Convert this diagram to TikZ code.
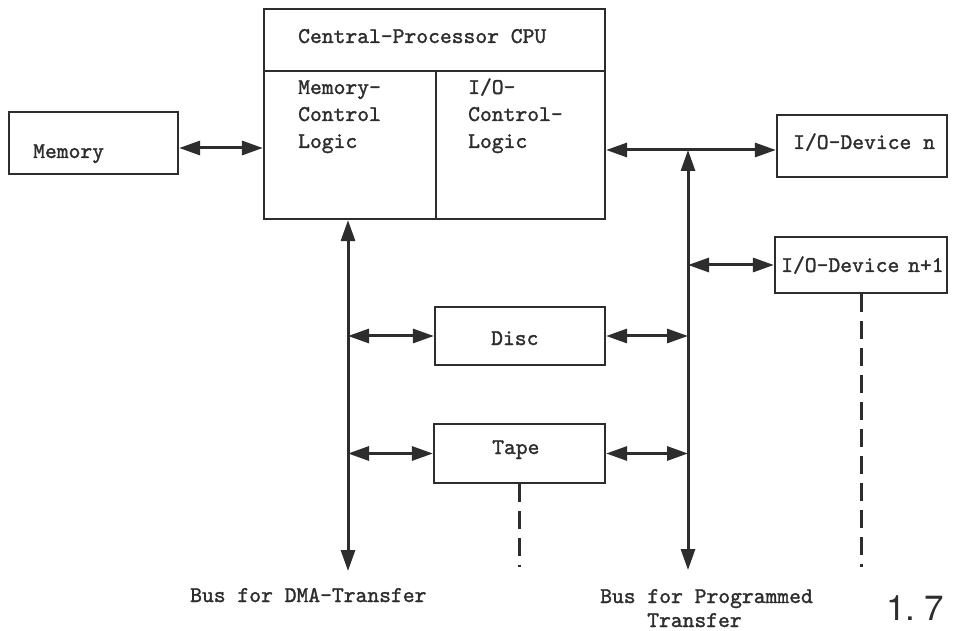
\documentclass[tikz,border=0pt]{standalone}
\usepackage{fontspec}
\newfontfamily\figfont{TeX Gyre Heros}
\newfontfamily\typewriter{lmmono10-regular.otf}[FakeBold=1.4]
\usetikzlibrary{arrows.meta}
\definecolor{ink}{RGB}{45,45,45}
\begin{document}
\begin{tikzpicture}[x=1pt,y=-1pt,
  box/.style={draw=ink, line width=2.2pt, rectangle, inner sep=0pt},
  lbl/.style={font=\typewriter\fontsize{22.5}{27}\selectfont, text=ink, anchor=base west, inner sep=0pt},
  divider/.style={draw=ink, line width=2.2pt},
  bi/.style={draw=ink, line width=3pt, {Triangle[length=21pt,width=14pt]}-{Triangle[length=21pt,width=14pt]}},
  dashline/.style={draw=ink, line width=3pt, dash pattern=on 18pt off 9pt}
]
\useasboundingbox[fill=white] (0,0) rectangle (954,631);

% boxes
\node[box, minimum width=341pt, minimum height=210pt] (cpu) at (434.5,114) {};
\node[box, minimum width=169pt, minimum height=62pt] (mem) at (93.5,143) {};
\node[box, minimum width=170pt, minimum height=62pt] (iodn) at (862,146) {};
\node[box, minimum width=172pt, minimum height=56pt] (iodn1) at (861,265) {};
\node[box, minimum width=170pt, minimum height=58pt] (disc) at (520,336) {};
\node[box, minimum width=171pt, minimum height=59pt] (tape) at (519.5,453.5) {};

% inner partitions of the CPU
\coordinate (split) at (436,71);
\draw[divider] (cpu.west |- split) -- (cpu.east |- split);
\draw[divider] (split) -- (split |- cpu.south);

% texts
\node[lbl] (cputitle) at (298,43) {Central-Processor CPU};
\node[lbl] (mcl1) at (298,94) {Memory-};
\node[lbl] (mcl2) at (298,121) {Control};
\node[lbl] (mcl3) at (298,148) {Logic};
\node[lbl] (iocl1) at (468,94) {I/O-};
\node[lbl] (iocl2) at (468,121) {Control-};
\node[lbl] (iocl3) at (468,148) {Logic};
\node[lbl] (memtext) at (33,158) {Memory};
\node[lbl] (iodntext) at (793,149) {I/O-Device n};
\node[lbl] (iodn1text) at (781,272) {I/O-Device\hspace{-3pt} n+1};
\node[lbl] (disctext) at (491,345) {Disc};
\node[lbl] (tapetext) at (492,454) {Tape};
\node[lbl] (dmatext) at (190,602) {Bus for DMA-Transfer};
\node[lbl] (prgtext1) at (600,603) {Bus for Programmed};
\node[lbl] (prgtext2) at (647,627) {Transfer};
\node[anchor=base west, inner sep=0pt, text=ink, font=\figfont\fontsize{35}{40}\selectfont] (fignum) at (886,620) {1.\hspace{9pt}7};

% bus junctions and ends
\coordinate (memlink) at (220,148);
\coordinate (junction) at (688,150);
\coordinate (prgend) at (688,570);
\coordinate (dmaend) at (348,571);
\coordinate (dashend) at (0,567);

% connectors
\draw[bi] (mem.east |- memlink) -- (cpu.west |- memlink);
\draw[bi] (cpu.east |- junction) -- (iodn.west |- junction);
\draw[bi] (junction) -- (prgend);
\draw[bi] (cpu.south -| dmaend) -- (dmaend);
\draw[bi] (junction |- iodn1.west) -- (iodn1.west);
\draw[bi] (dmaend |- disc.west) -- (disc.west);
\draw[bi] (disc.east) -- (junction |- disc.east);
\draw[bi] (dmaend |- tape.west) -- (tape.west);
\draw[bi] (tape.east) -- (junction |- tape.east);

% continuation marks
\draw[dashline] (tape.south) -- (tape.south |- dashend);
\draw[dashline] (iodn1.south) -- (iodn1.south |- dashend);
\end{tikzpicture}
\end{document}
